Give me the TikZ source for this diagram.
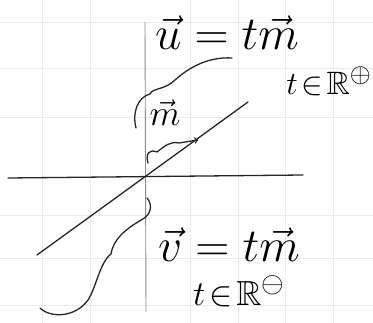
\documentclass[tikz,border=0pt]{standalone}
\usepackage{amssymb}
\begin{document}
\begin{tikzpicture}[x=1pt, y=-1pt, line cap=round, line join=round,
    pen/.style={line width=1.3pt, black!85},
    gridline/.style={black!8, line width=0.8pt},
    lab/.style={font=\Huge, inner sep=0pt, transform shape}]
    \useasboundingbox (0,0) rectangle (373,323);
    % paper grid
    \foreach \gx in {42,90,190,238,285,333} \draw[gridline] (\gx,0) -- (\gx,323);
    \foreach \gy in {22,68,117,215,258,305} \draw[gridline] (0,\gy) -- (373,\gy);
    % axes and line
    \coordinate (O) at (145,177);
    \coordinate (xl) at (8,178);
    \coordinate (xr) at (303,175);
    \coordinate (yt) at (145,22);
    \coordinate (yb) at (146,312);
    \coordinate (A) at (248,102);
    \coordinate (B) at (37,255);
    \draw[black!45, line width=0.9pt] (yt) -- (yb);
    \draw[pen] (xl) -- (xr);
    \draw[pen] (B) -- (A);
    % vector m
    \coordinate (m0) at (148,163);
    \coordinate (m1) at (198,140);
    \draw[pen,->] (m0) .. controls (145,153) and (150,149) .. (157,152)
        .. controls (165,146) and (170,141) .. (179,143) -- (m1);
    \node[lab, scale=1.45] (mlab) at (165,113) {$\vec{m}$};
    % braces
    \coordinate (u0) at (136,128);
    \coordinate (u1) at (232,58);
    \draw[pen] (u0) .. controls (132,112) and (138,97) .. (150,94)
        .. controls (152,88) and (165,90) .. (175,80) .. controls (195,62) and (215,57) .. (u1);
    \coordinate (v0) at (147,198);
    \coordinate (v1) at (40,308);
    \draw[pen] (v0) .. controls (153,205) and (151,214) .. (143,219)
        .. controls (125,229) and (113,240) .. (111,254)
        .. controls (100,262) and (96,288) .. (88,300)
        .. controls (75,318) and (50,318) .. (v1);
    % labels
    \node[lab, scale=1.9] (u) at (227,33) {$\vec{u}=t\vec{m}$};
    \node[lab, scale=1.3] (tp) at (329,81) {$t\!\in\!\mathbb{R}^{\oplus}$};
    \node[lab, scale=1.9] (v) at (229,245) {$\vec{v}=t\vec{m}$};
    \node[lab, scale=1.4] (tm) at (239,291) {$t\!\in\!\mathbb{R}^{\ominus}$};
\end{tikzpicture}
\end{document}
